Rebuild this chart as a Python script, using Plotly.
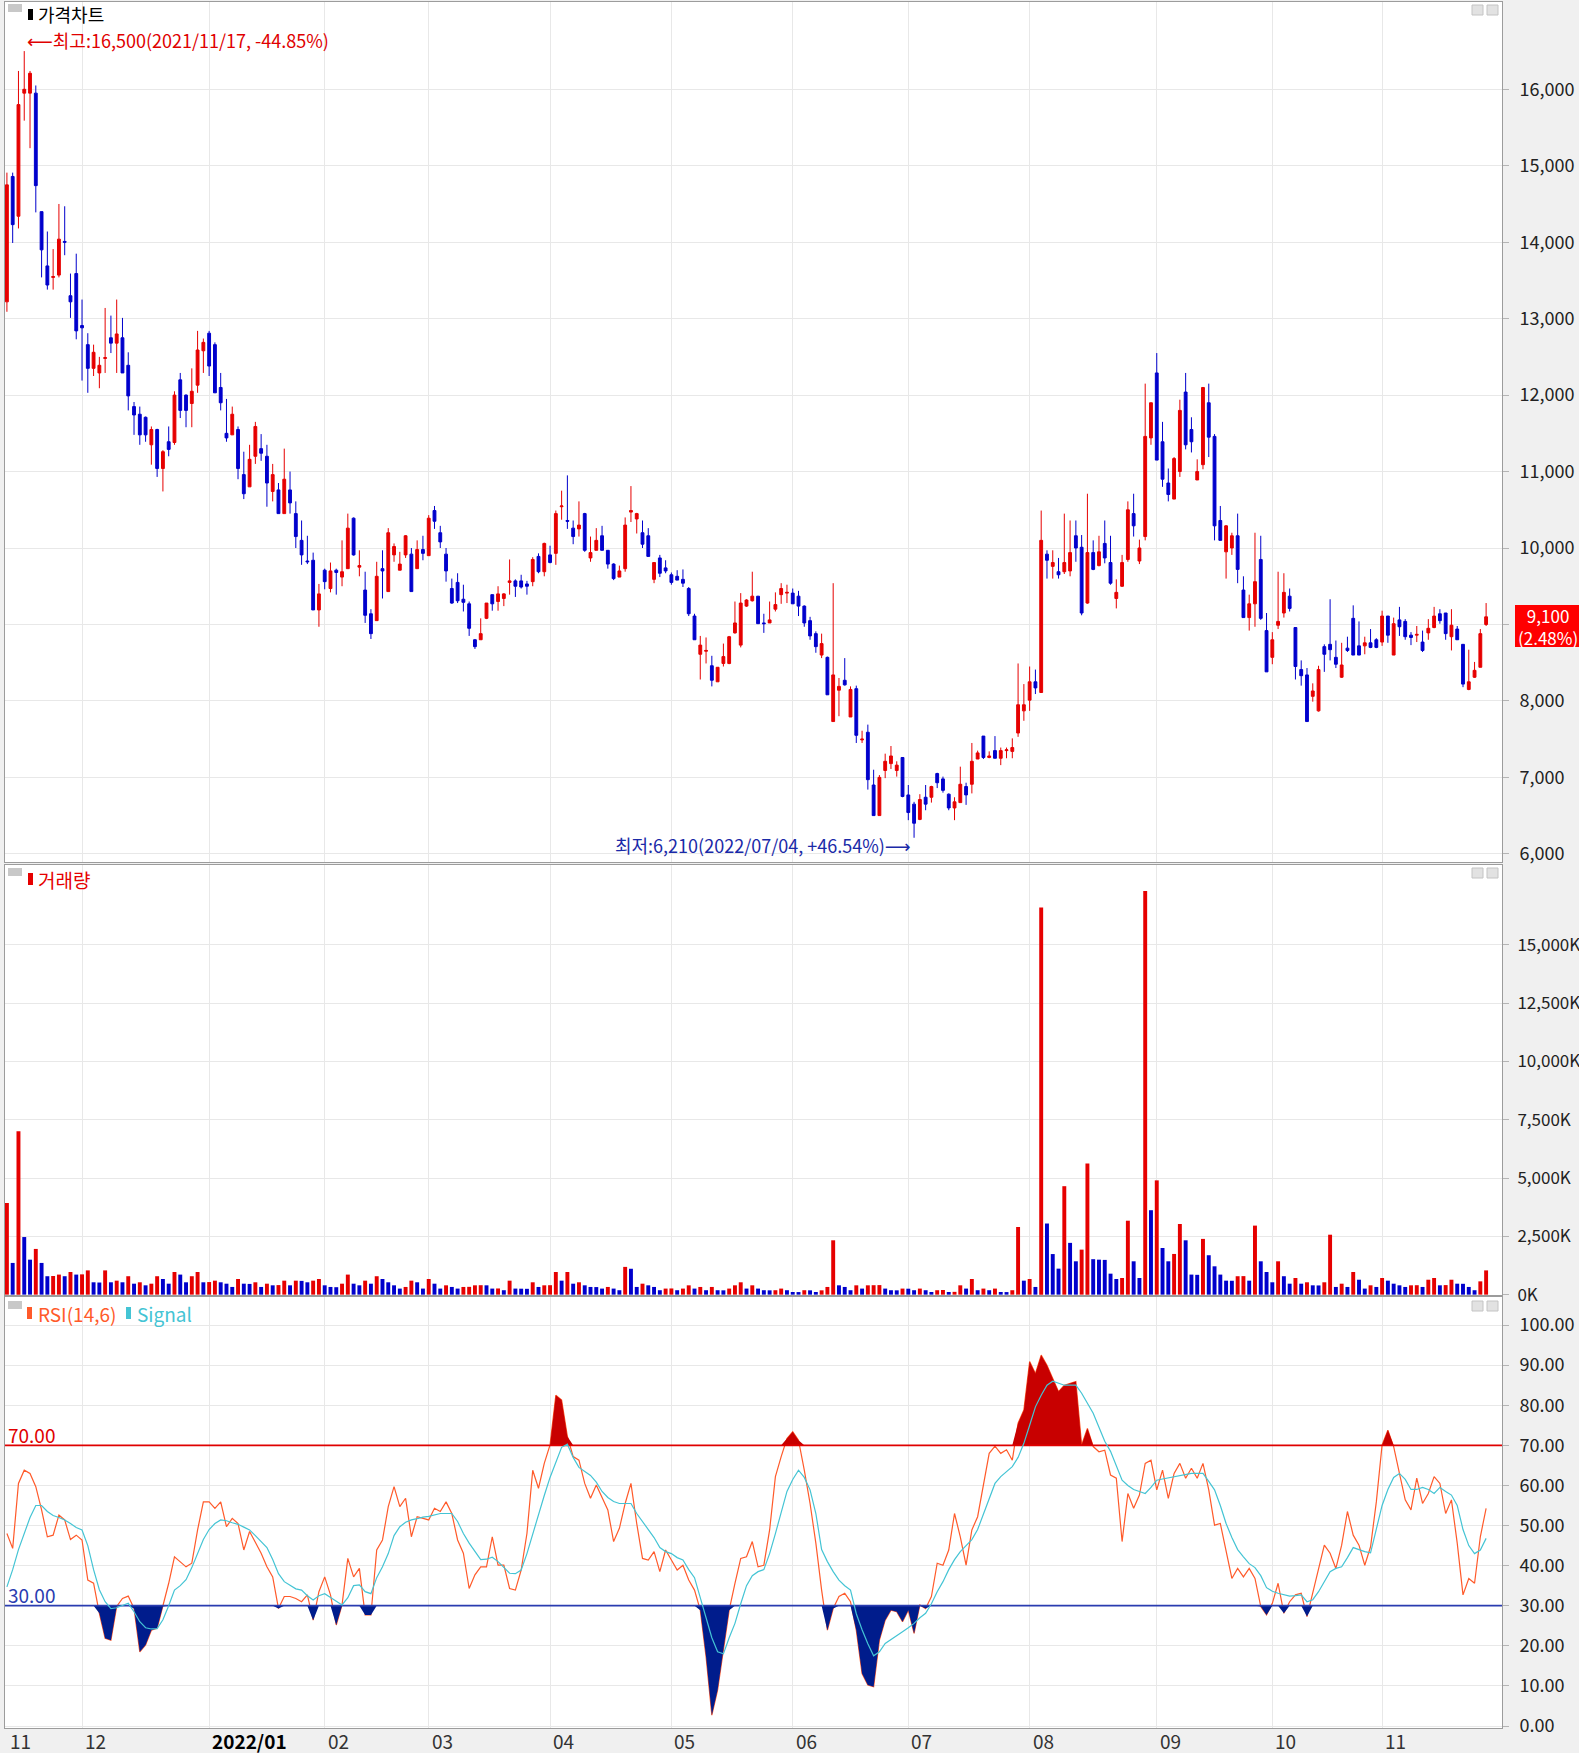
import plotly.graph_objects as go

# ---------------- data ----------------
month_starts = [13, 35, 55, 73, 94, 115, 136, 156, 177, 199, 219, 238]
month_labels = ["12", "2022/01", "02", "03", "04", "05", "06", "07", "08", "09", "10", "11"]
first_month_label = "11"
price_ticks = [6000, 7000, 8000, 9000, 10000, 11000, 12000, 13000, 14000, 15000, 16000]
volume_ticks = [0, 2500, 5000, 7500, 10000, 12500, 15000]
rsi_ticks = [0, 10, 20, 30, 40, 50, 60, 70, 80, 90, 100]
high_date = "2021/11/17"
low_date = "2022/07/04"

opens = [
    13220, 14860, 14340, 15950, 15950, 15950, 14400, 13690, 13540, 13570,
    14010, 13300, 13590, 12910, 12660, 12350, 12290, 12480, 12750, 12680,
    12750, 12390, 11850, 11750, 11710, 11350, 11550, 11040, 11390, 11380,
    12200, 12000, 11890, 12130, 12580, 12810, 12660, 12100, 11500, 11480,
    11550, 10960, 10800, 11200, 11300, 11200, 10740, 10760, 10450, 10760,
    10450, 10100, 9830, 9840, 9190, 9710, 9470, 9710, 9620, 9730,
    10390, 9750, 9450, 9140, 9050, 9730, 9430, 9910, 9710, 9910,
    9920, 9730, 9980, 9900, 10490, 10200, 9920, 9470, 9550, 9330,
    9270, 8800, 8800, 9080, 9390, 9300, 9340, 9550, 9570, 9570,
    9530, 9560, 9890, 9690, 9910, 9930, 10540, 10360, 10260, 10250,
    10450, 9870, 9970, 10160, 9970, 9790, 9620, 9730, 10470, 10380,
    10200, 10160, 9590, 9870, 9740, 9650, 9630, 9590, 9470, 9110,
    8610, 8650, 8460, 8250, 8490, 8490, 8890, 8730, 9240, 9310,
    9370, 9020, 9020, 9200, 9390, 9410, 9410, 9370, 9240, 9050,
    8880, 8600, 8570, 7730, 8140, 8270, 7790, 8160, 7490, 7590,
    6900, 6500, 7090, 7180, 7090, 7260, 6770, 6650, 6450, 6740,
    6740, 7050, 6980, 6780, 6600, 6670, 6880, 6910, 7240, 7540,
    7260, 7350, 7250, 7350, 7340, 7580, 7870, 8010, 8250, 8110,
    9920, 9760, 9690, 9690, 9700, 10160, 10010, 9280, 9940, 9770,
    10060, 9810, 9340, 9500, 9850, 10450, 9830, 10150, 11440, 12290,
    11390, 10850, 10640, 11000, 12040, 11550, 10890, 11090, 11900, 11460,
    10360, 9950, 10000, 10160, 9450, 9090, 9270, 9850, 8920, 8570,
    8990, 9150, 9370, 8960, 8410, 8340, 8060, 7870, 8710, 8740,
    8570, 8310, 8690, 9080, 8720, 8720, 8760, 8800, 8770, 9110,
    8600, 9060, 9040, 8860, 8860, 8770, 8890, 8960, 9140, 9150,
    8840, 8940, 8740, 8150, 8310, 8440, 9000,
]
highs = [
    14910, 14910, 16240, 16500, 16240, 16050, 14400, 14140, 13910, 14500,
    14470, 13590, 13850, 13250, 12810, 12660, 12500, 13140, 13040, 13250,
    13010, 12560, 11910, 11850, 11720, 11590, 11560, 11280, 11590, 12050,
    12290, 12010, 12350, 12840, 12740, 12840, 12690, 12290, 11950, 11850,
    11590, 11260, 11350, 11650, 11490, 11350, 11100, 10850, 11300, 11000,
    10610, 10360, 10160, 9940, 9530, 9730, 9810, 9730, 10100, 10450,
    10400, 9970, 9690, 9200, 9820, 9970, 10260, 10060, 9950, 10170,
    10000, 10100, 10160, 10430, 10550, 10290, 10000, 9600, 9670, 9520,
    9300, 8810, 9080, 9280, 9390, 9500, 9410, 9850, 9590, 9650,
    9570, 9880, 9930, 10070, 10030, 10490, 10750, 10950, 10360, 10610,
    10460, 10150, 10260, 10290, 9970, 9800, 9770, 10400, 10810, 10460,
    10360, 10260, 9810, 9910, 9840, 9680, 9710, 9720, 9490, 9140,
    8850, 8830, 8590, 8440, 8750, 8850, 9300, 9410, 9330, 9690,
    9370, 9140, 9300, 9420, 9540, 9520, 9470, 9440, 9250, 9100,
    8910, 8880, 8580, 9540, 8300, 8560, 8190, 8200, 7610, 7690,
    7100, 7030, 7310, 7410, 7210, 7260, 6900, 6680, 6780, 6900,
    6890, 7060, 7010, 6790, 6740, 7140, 6930, 7450, 7350, 7540,
    7340, 7540, 7390, 7390, 7510, 8490, 8220, 8450, 8410, 10490,
    9970, 9970, 9870, 10450, 10360, 10360, 10170, 10710, 10100, 10160,
    10360, 10160, 9590, 9910, 10610, 10710, 10110, 12150, 11900, 12550,
    11650, 11040, 11190, 11940, 12290, 11710, 11160, 12100, 12150, 11490,
    10550, 10300, 10200, 10450, 9630, 9390, 10200, 10160, 9150, 8900,
    9690, 9670, 9470, 8960, 8530, 8430, 8230, 8460, 8740, 9330,
    8790, 8760, 8840, 9250, 9040, 8840, 8940, 8820, 9180, 9110,
    9090, 9230, 9070, 8900, 8980, 8920, 9070, 9230, 9200, 9150,
    9200, 8980, 8740, 8670, 8510, 8940, 9280,
]
lows = [
    13090, 13990, 14180, 15590, 15230, 14390, 13540, 13380, 13380, 13540,
    13830, 13010, 12730, 12190, 12030, 12250, 12090, 12290, 12550, 12290,
    12290, 11800, 11480, 11350, 11390, 11090, 10930, 10740, 11200, 11350,
    11700, 11580, 11580, 12030, 12290, 12250, 12030, 11800, 11390, 11480,
    10900, 10640, 10800, 11100, 11140, 10540, 10610, 10450, 10450, 10450,
    10000, 9780, 9790, 9190, 8970, 9460, 9420, 9390, 9500, 9730,
    9900, 9630, 9020, 8810, 9050, 9340, 9430, 9820, 9710, 9870,
    9430, 9730, 9840, 9900, 10250, 10000, 9560, 9270, 9280, 9170,
    8850, 8680, 8800, 9070, 9180, 9180, 9240, 9390, 9360, 9470,
    9390, 9500, 9670, 9630, 9800, 9780, 10370, 10250, 10050, 10150,
    9950, 9820, 9970, 9970, 9730, 9580, 9620, 9690, 10340, 10190,
    10000, 9890, 9540, 9620, 9670, 9520, 9580, 9490, 9110, 8800,
    8280, 8490, 8190, 8250, 8450, 8480, 8880, 8700, 9230, 9300,
    9010, 8890, 9020, 9170, 9270, 9280, 9270, 9110, 8970, 8800,
    8630, 8560, 8080, 7730, 7800, 8200, 7790, 7450, 7450, 6840,
    6500, 6500, 6990, 7110, 7010, 6740, 6440, 6210, 6440, 6570,
    6670, 6860, 6800, 6570, 6440, 6670, 6640, 6790, 7240, 7240,
    7250, 7250, 7160, 7250, 7250, 7530, 7740, 7870, 8090, 8110,
    9600, 9600, 9600, 9660, 9630, 9820, 9120, 9270, 9710, 9760,
    9800, 9520, 9210, 9490, 9820, 10150, 9790, 10100, 11350, 11150,
    10800, 10610, 10640, 10930, 11290, 11250, 10890, 11030, 11190, 10100,
    10100, 9600, 9910, 9540, 9090, 8920, 8970, 9060, 8380, 8480,
    8940, 9090, 9170, 8280, 8200, 7730, 7990, 7860, 8380, 8530,
    8430, 8300, 8640, 8600, 8600, 8610, 8690, 8690, 8720, 8760,
    8600, 8850, 8800, 8730, 8770, 8640, 8800, 8950, 9010, 8800,
    8660, 8800, 8180, 8140, 8300, 8440, 8980,
]
closes = [
    14750, 14230, 15800, 16000, 16210, 14740, 13900, 13440, 13550, 14040,
    14000, 13220, 12840, 12880, 12350, 12560, 12390, 12490, 12680, 12800,
    12290, 11990, 11740, 11480, 11480, 11550, 11040, 11260, 11290, 12000,
    11800, 11800, 12050, 12590, 12690, 12380, 12030, 11900, 11440, 11750,
    11040, 10710, 11160, 11590, 11240, 10850, 10960, 10450, 10900, 10590,
    10150, 9910, 9820, 9190, 9400, 9560, 9700, 9680, 9690, 10260,
    9910, 9770, 9120, 8880, 9630, 9700, 10200, 10020, 9790, 10160,
    9430, 9980, 9930, 10390, 10350, 10080, 9700, 9280, 9310, 9290,
    8950, 8710, 8880, 9280, 9270, 9400, 9400, 9570, 9500, 9490,
    9500, 9850, 9690, 10060, 9810, 10450, 10550, 10350, 10150, 10300,
    9970, 9940, 10100, 9970, 9790, 9600, 9700, 10300, 10490, 10450,
    10050, 9890, 9810, 9670, 9700, 9550, 9580, 9540, 9140, 8800,
    8730, 8660, 8270, 8440, 8580, 8840, 9020, 9280, 9320, 9370,
    9010, 9010, 9060, 9260, 9470, 9420, 9270, 9240, 9020, 8850,
    8710, 8750, 8080, 8340, 8190, 8210, 8150, 7550, 7500, 6970,
    6500, 7000, 7210, 7280, 7160, 6750, 6540, 6400, 6710, 6650,
    6880, 6930, 6830, 6600, 6680, 6910, 6770, 7210, 7320, 7260,
    7280, 7250, 7350, 7360, 7390, 7950, 7950, 8250, 8170, 10100,
    9840, 9810, 9650, 9810, 9940, 10000, 9150, 9940, 9720, 9950,
    9870, 9540, 9420, 9810, 10500, 10290, 10000, 11460, 11900, 11150,
    10900, 10700, 11170, 11800, 11350, 11390, 11000, 12100, 11450, 10290,
    10100, 10290, 10160, 9720, 9090, 9270, 9560, 9080, 8380, 8800,
    9040, 9420, 9210, 8450, 8330, 7730, 8130, 8410, 8610, 8670,
    8480, 8470, 8660, 8600, 8600, 8760, 8700, 8700, 9110, 8860,
    9010, 8970, 8840, 8830, 8870, 8660, 8950, 9110, 9050, 8880,
    8990, 8800, 8220, 8250, 8400, 8880, 9100,
]
# volume in thousands of shares
volumes = [
    3930, 1360, 7000, 2470, 1500, 1960, 1360, 790, 800, 860,
    790, 970, 860, 870, 1040, 530, 520, 1040, 530, 600,
    530, 790, 470, 530, 400, 470, 790, 670, 470, 970,
    860, 530, 790, 970, 530, 540, 600, 530, 470, 330,
    670, 470, 460, 530, 330, 470, 400, 410, 600, 400,
    600, 590, 530, 600, 670, 400, 330, 320, 470, 860,
    470, 400, 600, 470, 790, 670, 530, 400, 260, 330,
    600, 530, 260, 670, 470, 260, 400, 330, 260, 330,
    335, 400, 405, 400, 260, 265, 190, 600, 260, 255,
    250, 530, 330, 400, 405, 970, 600, 970, 470, 530,
    400, 330, 325, 260, 330, 260, 190, 1190, 1110, 330,
    470, 400, 330, 190, 260, 265, 190, 260, 400, 260,
    330, 190, 330, 190, 185, 260, 400, 530, 260, 400,
    260, 190, 185, 190, 260, 190, 115, 110, 190, 185,
    115, 185, 330, 2330, 400, 330, 190, 400, 260, 400,
    405, 410, 260, 190, 185, 260, 255, 190, 260, 190,
    115, 190, 200, 115, 120, 400, 260, 670, 190, 260,
    190, 260, 115, 110, 190, 2900, 600, 670, 330, 16600,
    3050, 1740, 1115, 4650, 2220, 1430, 1930, 5620, 1520, 1500,
    1490, 900, 670, 715, 3170, 1430, 715, 17300, 3620, 4900,
    2000, 1430, 1745, 3030, 2330, 860, 850, 2390, 1690, 1215,
    860, 600, 595, 790, 795, 600, 2960, 1430, 970, 530,
    1430, 790, 470, 715, 470, 530, 400, 395, 530, 2570,
    330, 470, 330, 970, 640, 260, 400, 330, 715, 600,
    470, 400, 330, 400, 405, 330, 640, 715, 400, 410,
    640, 470, 465, 330, 190, 570, 1040,
]
rsi = [
    48.0, 44.3, 60.5, 63.8, 63.0, 59.7, 53.9, 47.2, 47.6, 52.6,
    51.4, 46.5, 47.6, 46.4, 36.4, 35.6, 28.1, 21.9, 21.4, 29.8,
    31.8, 32.4, 29.3, 18.5, 20.2, 23.9, 24.4, 29.8, 35.6, 42.2,
    41.0, 39.7, 40.6, 48.9, 55.9, 55.9, 54.3, 55.9, 49.7, 51.8,
    50.5, 43.9, 48.5, 45.6, 43.1, 39.7, 37.2, 29.3, 32.3, 32.3,
    31.8, 31.0, 32.7, 26.4, 33.5, 37.2, 32.7, 25.2, 30.2, 41.8,
    37.2, 39.3, 27.7, 27.7, 43.9, 46.4, 54.7, 59.7, 54.7, 56.8,
    47.2, 52.2, 51.8, 51.4, 54.3, 53.5, 55.9, 53.0, 46.4, 43.1,
    34.3, 37.7, 39.7, 39.7, 47.2, 40.1, 40.1, 34.3, 33.9, 38.9,
    48.0, 63.8, 59.3, 65.5, 70.1, 82.5, 81.3, 72.2, 67.2, 66.3,
    60.5, 56.8, 60.1, 57.2, 53.9, 46.0, 49.3, 55.5, 60.5, 50.5,
    41.8, 41.4, 43.5, 38.5, 43.9, 41.4, 38.9, 40.1, 36.4, 33.9,
    28.9, 17.3, 2.7, 9.0, 19.0, 28.9, 35.6, 41.8, 42.2, 46.0,
    39.7, 40.1, 48.9, 62.2, 67.2, 71.7, 73.4, 71.3, 63.8, 55.5,
    45.6, 33.9, 23.9, 29.3, 32.3, 33.1, 31.0, 23.9, 13.1, 10.2,
    9.8, 21.4, 26.4, 28.9, 28.5, 26.0, 28.9, 23.1, 30.2, 29.3,
    32.3, 40.6, 40.1, 43.9, 53.0, 47.2, 40.1, 48.9, 52.2, 60.5,
    68.0, 69.8, 68.0, 68.9, 66.3, 75.5, 78.8, 90.9, 87.9, 92.5,
    90.0, 86.7, 83.4, 85.0, 85.5, 85.9, 70.1, 74.2, 69.7, 68.4,
    68.8, 62.6, 61.8, 46.0, 58.0, 54.3, 57.6, 65.5, 66.3, 58.9,
    63.8, 56.8, 63.0, 65.5, 61.8, 64.3, 61.8, 65.5, 58.9, 50.1,
    50.5, 43.9, 36.8, 39.3, 37.2, 39.3, 36.8, 29.8, 27.7, 30.6,
    35.6, 28.1, 31.0, 32.7, 33.1, 27.3, 33.5, 38.9, 45.1, 43.1,
    39.3, 45.1, 53.5, 47.6, 45.1, 40.1, 44.7, 55.9, 70.1, 73.8,
    69.7, 63.0, 56.4, 53.9, 61.8, 55.5, 58.0, 62.2, 60.5, 53.0,
    56.4, 45.6, 32.7, 36.8, 35.6, 47.2, 54.3,
]
signal = [
    34.7, 39, 44, 48, 52, 55, 55, 53.5, 52.5, 52,
    51.4, 50.5, 49.5, 48.9, 45, 39, 34, 31, 29.3, 29.5,
    30, 30.6, 28.5, 26, 24.5, 24.2, 24.3, 26.5, 30, 33.9,
    35, 36.5, 39.5, 43, 46.5, 49, 50.5, 51.4, 51.2, 50.7,
    50.3, 49.6, 48.9, 47.5, 46, 44.5, 41.5, 38, 36, 35,
    34.2, 33.9, 32.5, 31.4, 32.5, 33, 32, 31, 30.2, 32,
    35, 35.2, 33.5, 33, 37, 39.7, 43, 47.5, 49.7, 50.8,
    51.4, 51.7, 52.1, 52.3, 52.6, 53, 53, 53, 51, 48,
    45.6, 43.5, 41.5, 41.6, 42.1, 41, 39.5, 38.1, 38, 38.9,
    43, 48, 53, 57.5, 62, 66, 69.5, 70.3, 67, 64.5,
    63.5, 62.5, 60.8, 58.5, 57, 56, 55.5, 55.5, 55.5, 53,
    51, 49, 47, 44.5, 43.5, 43, 42, 41.4, 39, 37,
    32, 27, 22, 18.5, 18, 22, 25.6, 30.5, 35, 37.5,
    38.5, 39, 43, 48, 53, 58.5, 61.5, 63.8, 62, 58.9,
    53, 44, 41, 38.5, 36.4, 35, 33.9, 28, 24, 20.5,
    17.5, 18.5, 20.6, 21.5, 22.5, 23.5, 24.5, 25.6, 27, 28.1,
    30.5, 33.5, 36, 39, 41.5, 43.5, 45, 46.5, 49, 53,
    57, 60.5, 62.2, 63.5, 64.7, 67, 70.5, 75, 79.6, 82.5,
    85, 86, 85.5, 85, 85, 85, 83, 80.5, 78, 74.5,
    71, 68.5, 65, 61.3, 60, 59, 58.5, 58, 59.5, 61.3,
    61.6, 61.9, 62.2, 62.5, 62.8, 63, 63, 63, 61, 58.9,
    55, 50.5, 47, 44, 42.2, 40.5, 39.5, 37.5, 34.5, 33.6,
    33.1, 32.8, 32.4, 32.5, 32.7, 31, 31.5, 33.5, 36, 38.5,
    39.3, 39.7, 42, 44.5, 44, 43.5, 43.2, 49, 55, 59,
    62, 63, 61.5, 59, 59, 59.5, 59, 58, 59.5, 58.5,
    57.6, 55, 49, 45, 43, 43.9, 46.8,
]

n = len(closes)
assert len(opens) == n and len(highs) == n and len(lows) == n
assert len(volumes) == n and len(rsi) == n and len(signal) == n
xs = list(range(n))

# ---------------- styling ----------------
W, H = 1579, 1753
ML, MR, MT, MB = 5, 77, 2, 25
PW = W - ML - MR
PH = H - MT - MB


def fx(px):
    return (px - ML) / PW


def fy(py):
    return (H - MB - py) / PH


RED = "#e60000"
BLUE = "#0000cc"
GRID = "#e8e8e8"
AXL = "#9c9c9c"
RSI_C = "#ff5a2a"
SIG_C = "#44c4d4"
FONT = "Noto Sans CJK KR, DejaVu Sans, sans-serif"
KFONT = "Noto Sans CJK KR, DejaVu Sans, sans-serif"

XRANGE = [-0.33, 258.75]

last = closes[-1]
prev = closes[-2]
pct = (last / prev - 1) * 100

fig = go.Figure()

# price candles
fig.add_trace(go.Candlestick(
    x=xs, open=opens, high=highs, low=lows, close=closes,
    increasing=dict(line=dict(color=RED, width=1), fillcolor=RED),
    decreasing=dict(line=dict(color=BLUE, width=1), fillcolor=BLUE),
    whiskerwidth=0, xaxis="x", yaxis="y", showlegend=False, hoverinfo="skip",
))

# volume bars (red when volume rose versus previous day, blue otherwise)
vol_colors = [RED if i == 0 or volumes[i] >= volumes[i - 1] else BLUE for i in range(n)]
fig.add_trace(go.Bar(
    x=xs, y=volumes, width=0.68, marker=dict(color=vol_colors, line=dict(width=0)),
    xaxis="x2", yaxis="y2", showlegend=False, hoverinfo="skip",
))

# RSI panel
fig.add_trace(go.Scatter(x=xs, y=rsi, mode="lines", line=dict(color=RSI_C, width=1.2),
                         xaxis="x3", yaxis="y3", showlegend=False, hoverinfo="skip"))
fig.add_trace(go.Scatter(x=xs, y=[70] * n, mode="lines", line=dict(width=0, color="rgba(0,0,0,0)"),
                         xaxis="x3", yaxis="y3", showlegend=False, hoverinfo="skip"))
fig.add_trace(go.Scatter(x=xs, y=[max(v, 70) for v in rsi], mode="lines",
                         line=dict(width=0, color="rgba(0,0,0,0)"),
                         fill="tonexty", fillcolor="#c80000",
                         xaxis="x3", yaxis="y3", showlegend=False, hoverinfo="skip"))
fig.add_trace(go.Scatter(x=xs, y=[30] * n, mode="lines", line=dict(width=0, color="rgba(0,0,0,0)"),
                         xaxis="x3", yaxis="y3", showlegend=False, hoverinfo="skip"))
fig.add_trace(go.Scatter(x=xs, y=[min(v, 30) for v in rsi], mode="lines",
                         line=dict(width=0, color="rgba(0,0,0,0)"),
                         fill="tonexty", fillcolor="#001c8c",
                         xaxis="x3", yaxis="y3", showlegend=False, hoverinfo="skip"))
fig.add_trace(go.Scatter(x=[-1, n + 5], y=[70, 70], mode="lines", line=dict(color="#e00000", width=1.8),
                         xaxis="x3", yaxis="y3", showlegend=False, hoverinfo="skip"))
fig.add_trace(go.Scatter(x=[-1, n + 5], y=[30, 30], mode="lines", line=dict(color="#2a3cb0", width=1.8),
                         xaxis="x3", yaxis="y3", showlegend=False, hoverinfo="skip"))
fig.add_trace(go.Scatter(x=xs, y=signal, mode="lines", line=dict(color=SIG_C, width=1.2),
                         xaxis="x3", yaxis="y3", showlegend=False, hoverinfo="skip"))

xcommon = dict(range=XRANGE, tickvals=month_starts, showticklabels=False, showgrid=True,
               gridcolor=GRID, gridwidth=1, zeroline=False, showline=True, mirror=True,
               linecolor=AXL, linewidth=1, ticks="", fixedrange=True, domain=[0, 1])


def ycommon(size, standoff):
    return dict(side="right", showgrid=True, gridcolor=GRID, gridwidth=1, zeroline=False,
                showline=True, mirror=True, linecolor=AXL, linewidth=1,
                ticks="outside", ticklen=6, tickcolor="#b4b4b4",
                tickfont=dict(family=FONT, size=size, color="#222222"),
                ticklabelstandoff=standoff, fixedrange=True)


# the current-price box covers the price label nearest to the last close
price_text = [f"{v:,}" if abs(v - last) > 400 else "" for v in price_ticks]

layout = dict(
    width=W, height=H,
    margin=dict(l=ML, r=MR, t=MT, b=MB, pad=0, autoexpand=False),
    paper_bgcolor="#f0f0f0", plot_bgcolor="white",
    showlegend=False, hovermode=False, boxgap=0.3,
    xaxis=dict(**xcommon, anchor="y", rangeslider=dict(visible=False)),
    xaxis2=dict(**xcommon, anchor="y2"),
    xaxis3=dict(**xcommon, anchor="y3"),
    yaxis=dict(**ycommon(18, 7), anchor="x", domain=[fy(862), fy(MT)], range=[5893, 17142],
               tickvals=price_ticks, ticktext=price_text),
    yaxis2=dict(**ycommon(17, 5), anchor="x2", domain=[fy(1295), fy(865)], range=[-15, 18420],
                tickvals=volume_ticks, ticktext=[f"{v:,}K" for v in volume_ticks]),
    yaxis3=dict(**ycommon(18, 7), anchor="x3", domain=[0, fy(1297)], range=[-0.5, 107.0],
                tickvals=rsi_ticks, tickformat=".2f"),
)
fig.update_layout(**layout)

# ---------------- annotations ----------------
ann = []


def text(px, py, s, color, size=18, family=FONT, xanchor="left", yanchor="middle"):
    ann.append(dict(xref="paper", yref="paper", x=fx(px), y=fy(py), text=s, showarrow=False,
                    xanchor=xanchor, yanchor=yanchor, font=dict(family=family, size=size, color=color)))


text(36, 14, "가격차트", "#000000", size=18, family=KFONT)
text(36, 879, "거래량", RED, size=19, family=KFONT)
text(36, 1313, "RSI(14,6)", RSI_C, size=19)
text(135, 1313, "Signal", SIG_C, size=19)
text(6, 1434, "70.00", "#e00000", size=19)
text(6, 1594, "30.00", "#2a3cb0", size=19)

max_high = max(highs)
min_low = min(lows)
i_high = highs.index(max_high)
i_low = lows.index(min_low)

ann.append(dict(xref="x", yref="paper", x=i_high, y=fy(40), xshift=1,
                text=f"⟵최고:{max_high:,}({high_date}, {(last / max_high - 1) * 100:+.2f}%)",
                showarrow=False, xanchor="left", yanchor="middle",
                font=dict(family=FONT, size=18, color="#e00000")))
ann.append(dict(xref="x", yref="paper", x=i_low, y=fy(845), xshift=-1,
                text=f"최저:{min_low:,}({low_date}, {(last / min_low - 1) * 100:+.2f}%)⟶",
                showarrow=False, xanchor="right", yanchor="middle",
                font=dict(family=FONT, size=18, color="#1a2aa8")))

# current price label box
text(1516, 626, f"{last:,}<br>({pct:.2f}%)", "white", size=17)

# month labels on the bottom axis
ann.append(dict(xref="x3", yref="paper", x=XRANGE[0], y=fy(1741), xshift=3, text=first_month_label,
                showarrow=False, xanchor="left", yanchor="middle",
                font=dict(family=FONT, size=19, color="#333333")))
for idx, lab in zip(month_starts, month_labels):
    bold = "/" in lab
    ann.append(dict(xref="x3", yref="paper", x=idx, y=fy(1741), xshift=1,
                    text=f"<b>{lab}</b>" if bold else lab, showarrow=False,
                    xanchor="left", yanchor="middle",
                    font=dict(family=FONT, size=19, color="#000000" if bold else "#333333")))

fig.update_layout(annotations=ann)

# ---------------- decorative shapes ----------------
shapes = []


def rect(x0, y0, x1, y1, fill, line=None):
    shapes.append(dict(type="rect", xref="paper", yref="paper", x0=fx(x0), x1=fx(x1),
                       y0=fy(y1), y1=fy(y0), fillcolor=fill,
                       line=dict(width=1 if line else 0, color=line or fill), layer="above"))


# panel title markers
rect(28, 9, 33, 20, "#000000")
rect(28, 873, 33, 885, RED)
rect(27, 1307, 32, 1319, RSI_C)
rect(126, 1307, 131, 1319, SIG_C)
# small gray boxes at top-left of each panel
for top in (4, 868, 1301):
    rect(8, top, 22, top + 8, "#c8c8c8")
# restore / close icons at top-right of each panel
for top in (5, 868, 1301):
    rect(1472, top, 1483, top + 10, "#e2e2e2", "#c4c4c4")
    rect(1487, top, 1498, top + 10, "#e2e2e2", "#c4c4c4")
# current price box
rect(1515, 605, 1579, 647, "#ff0000")

fig.update_layout(shapes=shapes)

# remove the browser's default page margin so the figure sits at the window's top-left
fig.write_html("out.html", config={"displayModeBar": False},
               post_script="document.body.style.margin='0px';")
